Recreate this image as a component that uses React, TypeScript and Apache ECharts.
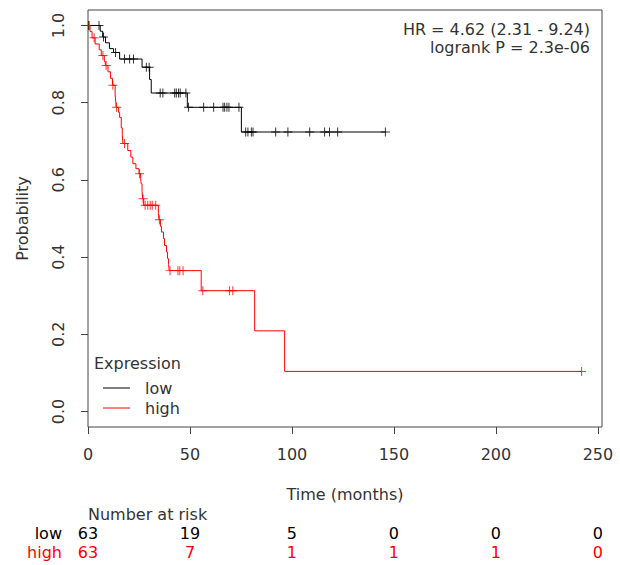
import React, { useEffect, useRef } from "react";
import * as echarts from "echarts";

// ---- data ----
const xTicks = [0, 50, 100, 150, 200, 250];
const yTicks = [0, 0.2, 0.4, 0.6, 0.8, 1.0];
const groupNames = ["low", "high"];

// low expression group: event times and survival after each step
const lowTimes = [0, 6.0, 7.2, 8.6, 10.5, 12.5, 15.5, 26.5, 30.2, 31.0, 48.7, 75.2];
const lowSurv = [1.0, 0.985, 0.97, 0.955, 0.94, 0.93, 0.913, 0.892, 0.86, 0.825, 0.788, 0.724];
const lowEnd = 146;
const lowCensor = [
  0.3, 5.4, 7.6, 13.5, 17.9, 20.4, 22.3, 28.6, 30.0, 35.4, 36.7, 42.5, 43.3, 44.4, 45.2, 48.0,
  49.3, 56.7, 61.6, 66.2, 67.0, 68.1, 69.1, 74.0, 77.3, 78.4, 80.1, 80.9, 92.0, 98.0, 108.7,
  116.0, 118.4, 122.4, 145.8,
];

// high expression group
const highTimes = [
  0, 1.0, 2.0, 3.5, 5.5, 6.5, 8.0, 8.5, 9.8, 11.0, 12.0, 13.3, 13.6, 13.8, 15.0, 15.5, 16.3,
  16.8, 17.1, 19.5, 21.0, 22.0, 23.5, 25.0, 25.8, 26.1, 26.5, 26.8, 27.3, 34.5, 34.8, 35.5,
  36.0, 37.0, 37.5, 38.5, 39.0, 39.5, 39.8, 55.5, 81.7, 96.4,
];
const highSurv = [
  1.0, 0.984, 0.968, 0.952, 0.937, 0.922, 0.906, 0.896, 0.88, 0.863, 0.845, 0.82, 0.804,
  0.788, 0.775, 0.762, 0.735, 0.718, 0.694, 0.676, 0.659, 0.642, 0.629, 0.616, 0.603, 0.59,
  0.57, 0.551, 0.534, 0.513, 0.497, 0.48, 0.465, 0.448, 0.43, 0.413, 0.396, 0.381, 0.365,
  0.313, 0.209, 0.104,
];
const highEnd = 242;
const highCensor = [
  0.6, 3.0, 7.3, 8.9, 12.2, 14.0, 17.9, 25.3, 27.0, 28.0, 29.3, 30.5, 31.5, 33.2, 35.0, 40.2,
  44.1, 45.0, 46.6, 56.3, 69.4, 71.0, 242,
];

const riskLow = [63, 19, 5, 0, 0, 0];
const riskHigh = [63, 7, 1, 1, 1, 0];

const hrText = "HR = 4.62 (2.31 - 9.24)";
const pText = "logrank P = 2.3e-06";
const xTitle = "Time (months)";
const yTitle = "Probability";
const legendTitle = "Expression";
const riskTitle = "Number at risk";

// ---- styles ----
const LOW_COLOR = "#000000";
const HIGH_COLOR = "#ff0000";
const TEXT_COLOR = "#333333";
const AXIS_COLOR = "#444444";
const FONT = '16px "DejaVu Sans"';
const PLUS = "path://M4,0 H5 V4 H9 V5 H5 V9 H4 V5 H0 V4 H4 Z";

function survAt(times: number[], surv: number[], t: number) {
  let p = surv[0];
  for (let i = 0; i < times.length; i++) if (times[i] <= t) p = surv[i];
  return p;
}
function stepData(times: number[], surv: number[], end: number) {
  const d = times.map((t, i) => [t, surv[i]]);
  d.push([end, surv[surv.length - 1]]);
  return d;
}

export default function App() {
  const ref = useRef<HTMLDivElement>(null);
  useEffect(() => {
    if (!ref.current) return;
    const chart = echarts.init(ref.current, null, { renderer: "svg" });
    chart.setOption({
      animation: false,
      grid: {
        left: 88,
        right: 18,
        top: 10,
        bottom: 138,
        show: true,
        borderColor: AXIS_COLOR,
        borderWidth: 1,
        backgroundColor: "transparent",
      },
      xAxis: {
        type: "value",
        min: 0,
        max: 252,
        splitLine: { show: false },
        axisLine: { show: false, onZero: false },
        axisTick: { show: true, length: 7, lineStyle: { color: AXIS_COLOR }, customValues: xTicks },
        axisLabel: {
          customValues: xTicks,
          margin: 19,
          color: TEXT_COLOR,
          fontSize: 16,
          fontFamily: "DejaVu Sans",
        },
      },
      yAxis: {
        type: "value",
        min: -0.04,
        max: 1.04,
        splitLine: { show: false },
        axisLine: { show: false, onZero: false },
        axisTick: { show: true, length: 7, lineStyle: { color: AXIS_COLOR }, customValues: yTicks },
        axisLabel: {
          customValues: yTicks,
          rotate: 90,
          margin: 22,
          color: TEXT_COLOR,
          fontSize: 16,
          fontFamily: "DejaVu Sans",
          formatter: (v: number) => v.toFixed(1),
        },
      },
      series: [
        {
          name: groupNames[0],
          type: "line",
          step: "end",
          symbol: "none",
          data: stepData(lowTimes, lowSurv, lowEnd),
          lineStyle: { color: LOW_COLOR, width: 1 },
        },
        {
          name: groupNames[0] + " censored",
          type: "scatter",
          symbol: PLUS,
          symbolSize: 9,
          data: lowCensor.map((t) => [t, survAt(lowTimes, lowSurv, t)]),
          itemStyle: { color: LOW_COLOR },
        },
        {
          name: groupNames[1],
          type: "line",
          step: "end",
          symbol: "none",
          data: stepData(highTimes, highSurv, highEnd),
          lineStyle: { color: HIGH_COLOR, width: 1 },
        },
        {
          name: groupNames[1] + " censored",
          type: "scatter",
          symbol: PLUS,
          symbolSize: 9,
          data: highCensor.map((t) => [t, survAt(highTimes, highSurv, t)]),
          itemStyle: { color: HIGH_COLOR },
        },
      ],
    });

    const px = (t: number, p: number) =>
      chart.convertToPixel({ gridIndex: 0 }, [t, p]) as number[];
    const left = px(0, 0)[0];
    const right = px(252, 0)[0];
    const top = px(0, 1.04)[1];
    const bottom = px(0, -0.04)[1];
    const txt = (text: string, x: number, y: number, align: string, fill = TEXT_COLOR, extra: any = {}) => ({
      type: "text",
      x,
      y,
      ...extra,
      style: { text, fill, font: FONT, align, verticalAlign: "middle" },
    });

    const graphics: any[] = [
      txt(xTitle, (left + right) / 2, 494, "center"),
      txt(yTitle, 22, (top + bottom) / 2, "center", TEXT_COLOR, { rotation: Math.PI / 2 }),
      txt(hrText, right - 12, 29.5, "right"),
      txt(pText, right - 12, 47.5, "right"),
      txt(legendTitle, left + 6, 363.5, "left"),
      {
        type: "line",
        shape: { x1: left + 15, y1: 388, x2: left + 42, y2: 388 },
        style: { stroke: LOW_COLOR, lineWidth: 1 },
      },
      {
        type: "line",
        shape: { x1: left + 15, y1: 408, x2: left + 42, y2: 408 },
        style: { stroke: HIGH_COLOR, lineWidth: 1 },
      },
      txt(groupNames[0], left + 57, 388, "left"),
      txt(groupNames[1], left + 57, 408, "left"),
      txt(riskTitle, left, 514, "left"),
      txt(groupNames[0], 62, 533, "right", LOW_COLOR),
      txt(groupNames[1], 62, 552, "right", HIGH_COLOR),
    ];
    xTicks.forEach((t, i) => {
      const x = px(t, 0)[0];
      graphics.push(txt(String(riskLow[i]), x, 533, "center", LOW_COLOR));
      graphics.push(txt(String(riskHigh[i]), x, 552, "center", HIGH_COLOR));
    });
    chart.setOption({ graphic: graphics });

    return () => chart.dispose();
  }, []);

  return (
    <div
      ref={ref}
      style={{ position: "fixed", left: 0, top: 0, width: 620, height: 565, background: "#fff" }}
    />
  );
}
